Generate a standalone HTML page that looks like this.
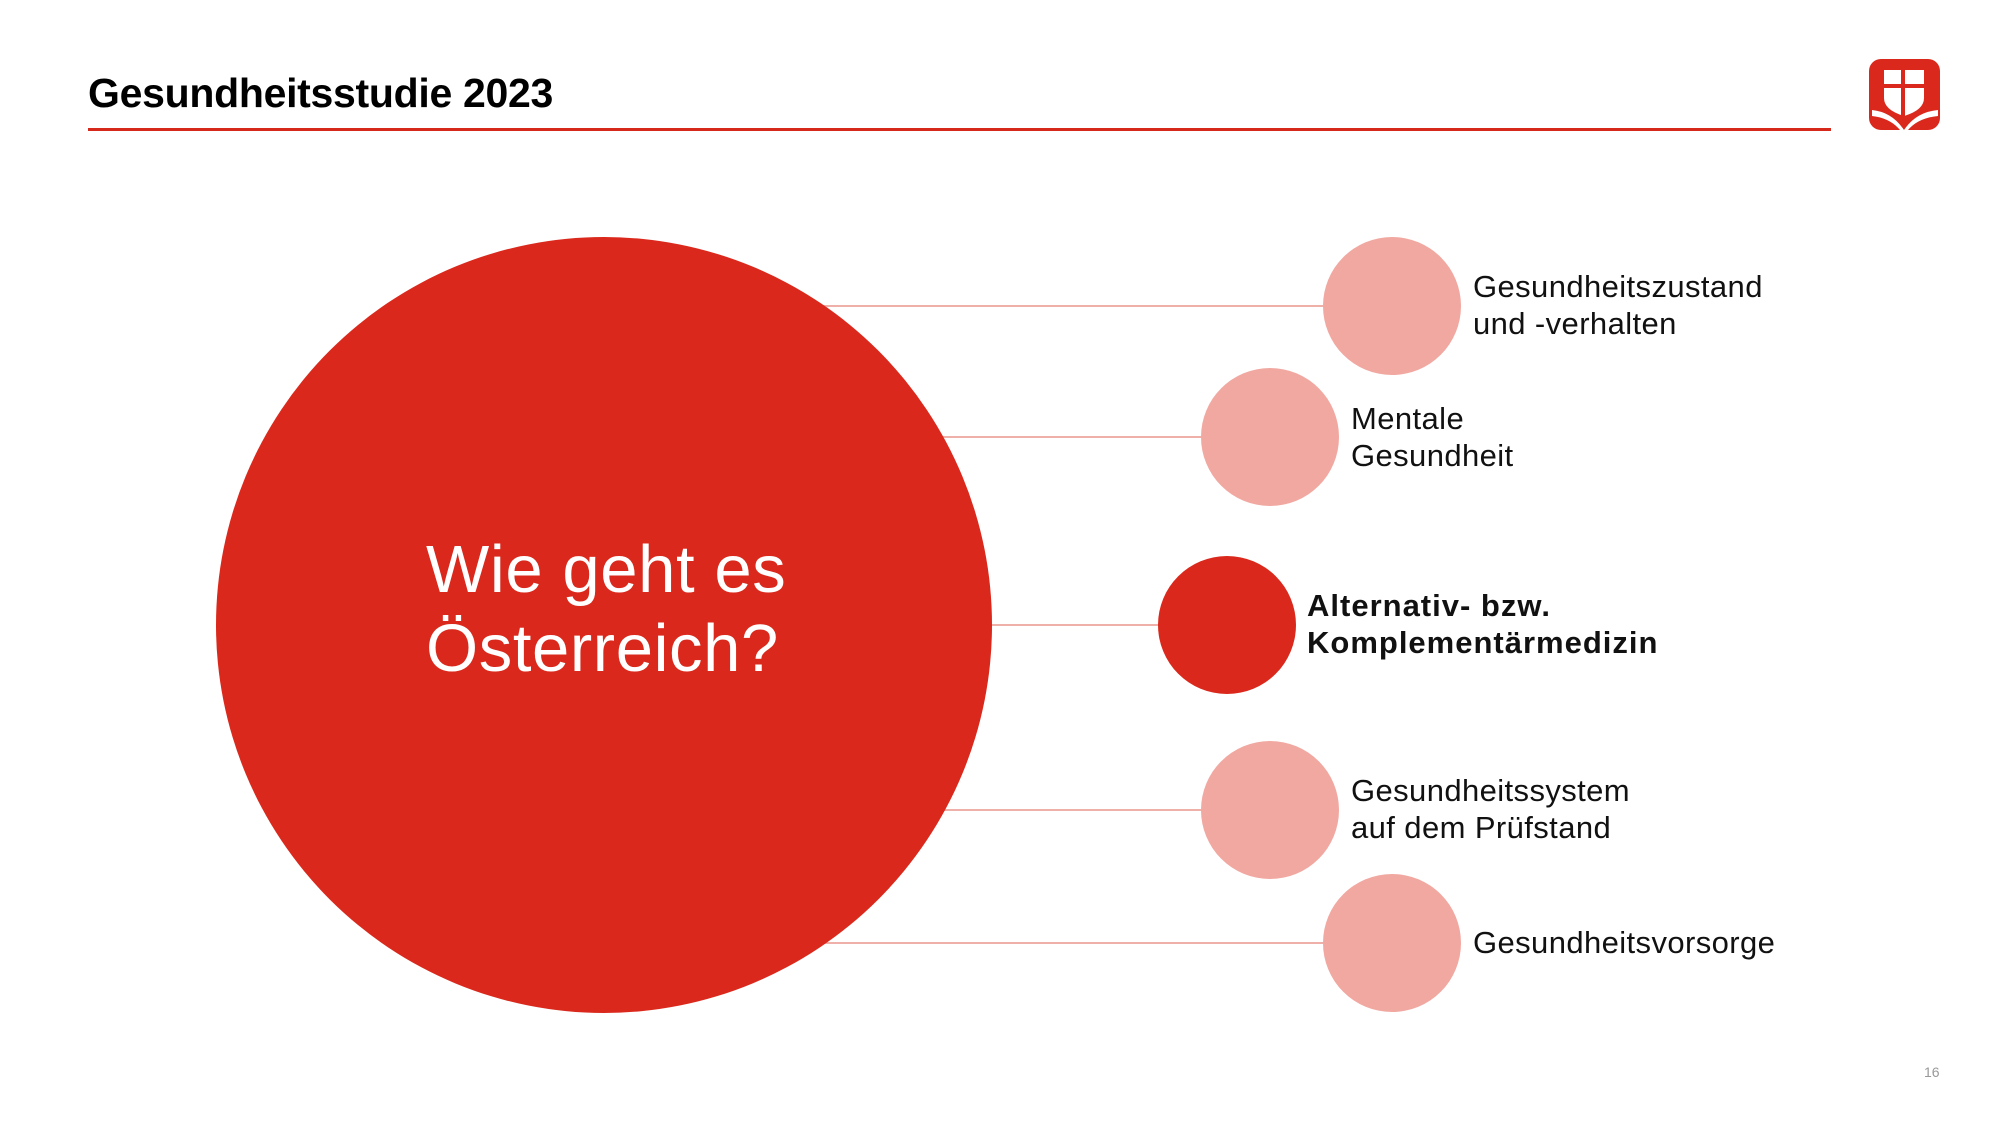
<!DOCTYPE html>
<html><head><meta charset="utf-8"><style>
html,body{margin:0;padding:0;background:#fff;}
body{width:1999px;height:1125px;position:relative;overflow:hidden;font-family:"Liberation Sans",sans-serif;}
.t{position:absolute;color:#111;font-size:31px;line-height:37px;letter-spacing:0.4px;}
</style></head><body>
<div style="position:absolute;left:88px;top:70px;font-size:41px;font-weight:bold;letter-spacing:-0.3px;color:#000;">Gesundheitsstudie 2023</div>
<div style="position:absolute;left:88px;top:128px;width:1743px;height:3px;background:#d7281c;"></div>
<svg style="position:absolute;left:0;top:0" width="1999" height="1125">
 <rect x="1869" y="59" width="71" height="71" rx="12" fill="#da291c"/>
 <path d="M1884 70 h40 v28 q0 12 -20 18 q-20 -6 -20 -18 z" fill="#fff"/>
 <path d="M1903 70 v46 M1884 86 h40" stroke="#da291c" stroke-width="4"/>
 <path d="M1872 110 q20 2 32 20 q12 -18 34 -20 v6 q-20 2 -30 14 h-8 q-10 -12 -28 -14z" fill="#fff"/>
 <g stroke="#f0b0aa" stroke-width="2">
  <line x1="820" y1="306" x2="1330" y2="306"/>
  <line x1="940" y1="437" x2="1210" y2="437"/>
  <line x1="990" y1="625" x2="1160" y2="625"/>
  <line x1="940" y1="810" x2="1210" y2="810"/>
  <line x1="820" y1="943" x2="1330" y2="943"/>
 </g>
 <circle cx="604" cy="625" r="388" fill="#da291c"/>
 <circle cx="1392" cy="306" r="69" fill="#f1a8a1"/>
 <circle cx="1270" cy="437" r="69" fill="#f1a8a1"/>
 <circle cx="1227" cy="625" r="69" fill="#da291c"/>
 <circle cx="1270" cy="810" r="69" fill="#f1a8a1"/>
 <circle cx="1392" cy="943" r="69" fill="#f1a8a1"/>
</svg>
<div style="position:absolute;left:426px;top:530px;color:#fff;font-size:67px;line-height:79px;letter-spacing:0.6px;">Wie geht es<br>Österreich?</div>
<div class="t" style="left:1473px;top:268px;">Gesundheitszustand<br>und -verhalten</div>
<div class="t" style="left:1351px;top:400px;">Mentale<br>Gesundheit</div>
<div class="t" style="left:1307px;top:587px;font-weight:bold;letter-spacing:1px;">Alternativ- bzw.<br>Komplementärmedizin</div>
<div class="t" style="left:1351px;top:772px;">Gesundheitssystem<br>auf dem Prüfstand</div>
<div class="t" style="left:1473px;top:924px;">Gesundheitsvorsorge</div>
<div style="position:absolute;left:1924px;top:1064px;font-size:14px;color:#999;">16</div>
</body></html>
